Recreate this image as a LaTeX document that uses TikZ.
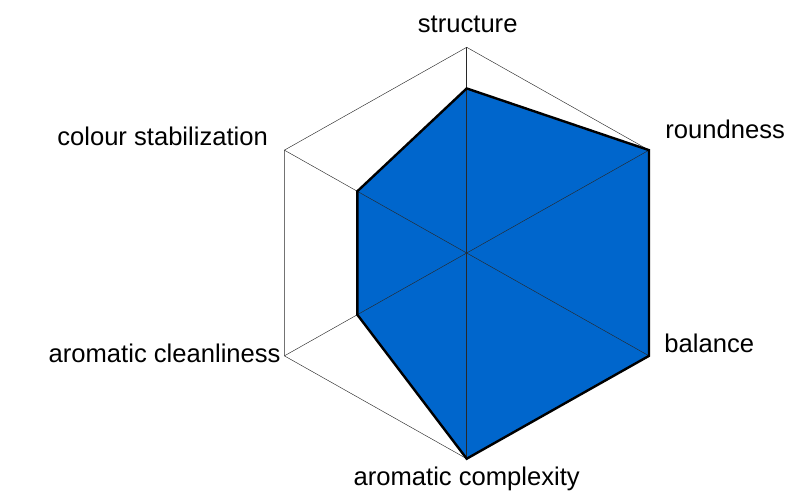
\documentclass[tikz,border=0pt]{standalone}
\usepackage{fontspec}
\setmainfont{Liberation Sans}
\usepackage{tikz}
\usetikzlibrary{calc}
\definecolor{cus-blue}{RGB}{0,102,204}
\definecolor{cus-grid}{RGB}{40,40,40}

\begin{document}
\begin{tikzpicture}[x=0.5pt,y=-0.5pt,
	lbl/.style={font=\fontsize{12.8}{15}\selectfont},
	grid/.style={cus-grid,line width=0.22pt},
	web/.style={draw=black,line width=1.2pt,line join=miter}]
\useasboundingbox (0,0) rectangle (790,492);
\coordinate (c) at (466.7,253);
% outer hexagon corners
\foreach \n/\a in {s/90,r/30,b/-30,x/-90,k/-150,f/150}{
	\coordinate (o\n) at ($(c)+({210.5*cos(\a)},{-205.7*sin(\a)})$);
}
% data corners
\foreach \n/\a/\v in {s/90/0.8,r/30/1,b/-30/1,x/-90/1,k/-150/0.6,f/150/0.6}{
	\coordinate (d\n) at ($(c)+({210.5*\v*cos(\a)},{-205.7*\v*sin(\a)})$);
}
\fill [cus-blue] (ds)--(dr)--(db)--(dx)--(dk)--(df)--cycle;
\draw [grid] (os)--(or)--(ob)--(ox)--(ok)--(of)--cycle;
\draw [grid] (ox)--(os);
\draw [grid] (ok)--(or);
\draw [grid] (of)--(ob);
\draw [web] (ds)--(dr)--(db)--(dx)--(dk)--(df)--cycle;
% labels
\node [lbl,anchor=base] (ls) at (467.7,33) {structure};
\node [lbl,anchor=base west,inner sep=0pt] (lr) at (665,138.3) {roundness};
\node [lbl,anchor=base west,inner sep=0pt] (lb) at (664,352.3) {balance};
\node [lbl,anchor=base] (lx) at (466.7,485) {aromatic complexity};
\node [lbl,anchor=base east,inner sep=0pt] (lf) at (268.3,145) {colour stabilization};
\node [lbl,anchor=base east,inner sep=0pt] (lk) at (281,362) {aromatic cleanliness};
\end{tikzpicture}
\end{document}
